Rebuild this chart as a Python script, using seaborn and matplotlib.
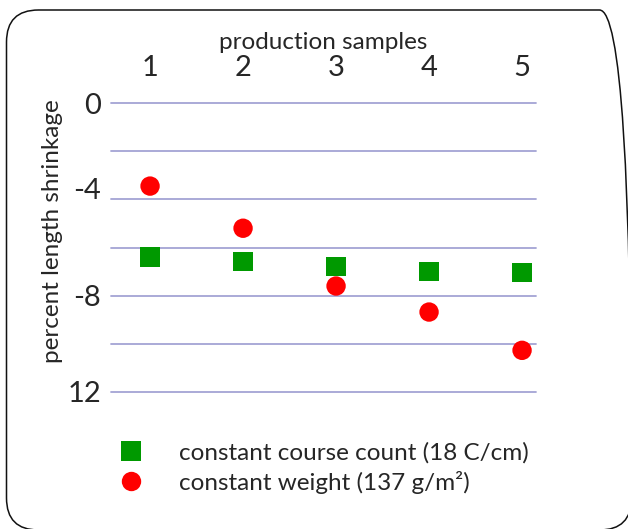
import pandas as pd
import seaborn as sns
import matplotlib.pyplot as plt
from matplotlib.patches import FancyBboxPatch

# DATA
samples = [1, 2, 3, 4, 5]
course_count = [-6.4, -6.57, -6.78, -6.99, -7.05]
weight = [-3.45, -5.2, -7.6, -8.68, -10.27]
series_names = ["constant course count (18 C/cm)", "constant weight (137 g/m²)"]
ytick_vals = [0, -4, -8, -12]
ytick_text = ["0", "-4", "-8", "12"]

df = pd.DataFrame({
    "sample": samples * 2,
    "shrinkage": course_count + weight,
    "series": [series_names[0]] * 5 + [series_names[1]] * 5,
})

sns.set_style("white")
plt.rcParams["font.family"] = ["Lato", "DejaVu Sans"]

fig = plt.figure(figsize=(6.28, 5.29), dpi=100)

# rounded slide frame (inches)
frame = FancyBboxPatch((0.065, -0.01), 6.25, 5.20,
                       boxstyle="round,pad=0,rounding_size=0.32",
                       transform=fig.dpi_scale_trans, fill=False,
                       edgecolor="#111111", linewidth=1.1)
fig.patches.append(frame)

ax = fig.add_axes([111 / 628, 1 - 392 / 529, 425 / 628, 289 / 529])

sns.scatterplot(data=df, x="sample", y="shrinkage", hue="series", style="series",
                palette=["#009900", "#ff0000"], markers=["s", "o"],
                s=195, linewidth=0, ax=ax, clip_on=False, legend=True)

ax.set_xlim(0.58, 5.15)
ax.set_ylim(-12, 0)
for y in range(0, -13, -2):
    ax.axhline(y, color="#a4a4d4", linewidth=1.3, zorder=0, clip_on=False)
for s in ax.spines.values():
    s.set_visible(False)

ax.xaxis.tick_top()
ax.xaxis.set_label_position("top")
ax.set_xticks(samples)
ax.set_xticklabels([str(v) for v in samples], fontsize=21)
ax.set_yticks(ytick_vals)
ax.set_yticklabels(ytick_text, fontsize=21)
ax.tick_params(axis="y", length=0, pad=7)
ax.tick_params(axis="x", length=0, pad=16)
ax.get_yticklabels()[1].set_va("baseline")
ax.set_xlabel("production samples", fontsize=17.5, labelpad=4)
ax.set_ylabel("percent length shrinkage", fontsize=17.5)
ax.yaxis.set_label_coords(-0.112, 0.557)

handles, labels = ax.get_legend_handles_labels()
ax.legend(handles, labels, loc="upper left", bbox_to_anchor=(119 / 628, 1 - 442 / 529),
          bbox_transform=fig.transFigure, frameon=False, fontsize=17.5,
          borderpad=0, borderaxespad=0, handlelength=1.0, handletextpad=1.45,
          labelspacing=0.3, markerscale=1.0)

fig.savefig("out.png", dpi=100)
